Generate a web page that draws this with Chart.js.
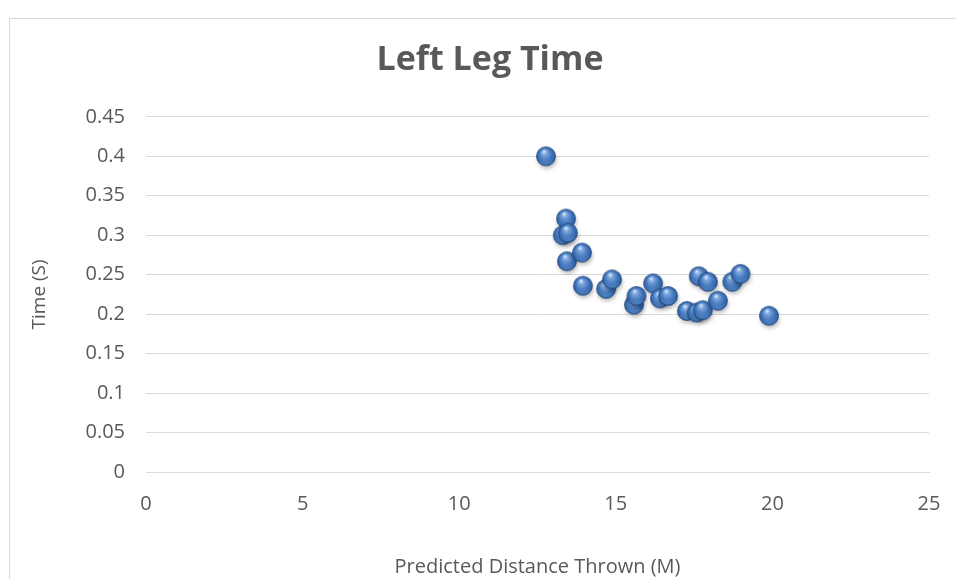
<!DOCTYPE html>
<html>
<head>
<meta charset="utf-8">
<script src="https://cdn.jsdelivr.net/npm/chart.js@4"></script>
<style>
    html, body { margin: 0; padding: 0; background: #ffffff; }
    #wrap { position: relative; width: 956px; height: 579px; overflow: hidden; }
    #frame { position: absolute; left: 9px; top: 18px; width: 1000px; height: 700px; border: 1px solid #d9d9d9; }
    #chart { position: absolute; left: 0; top: 0; }
</style>
</head>
<body>
<div id="wrap">
    <div id="frame"></div>
    <canvas id="chart" width="956" height="579"></canvas>
</div>
<script>
const chartTitle = 'Left Leg Time';
const xTitle = 'Predicted Distance Thrown (M)';
const yTitle = 'Time (S)';

const distances = [12.77, 13.41, 13.31, 13.47, 13.44, 13.92, 13.95, 14.69, 14.88, 15.58, 15.66, 16.19,
    16.41, 16.67, 17.27, 17.59, 17.78, 17.65, 17.94, 18.26, 18.72, 18.98, 19.89];
const times = [0.400, 0.321, 0.300, 0.303, 0.267, 0.278, 0.236, 0.232, 0.244, 0.212, 0.223, 0.239,
    0.220, 0.223, 0.204, 0.202, 0.205, 0.248, 0.241, 0.217, 0.241, 0.251, 0.198];

const xTicks = [0, 5, 10, 15, 20, 25];
const yTicks = [0, 0.05, 0.1, 0.15, 0.2, 0.25, 0.3, 0.35, 0.4, 0.45];

// glossy ball used as point style
function makeBall() {
    const c = document.createElement('canvas');
    c.width = 32; c.height = 32;
    const g = c.getContext('2d');
    const cx = 16, cy = 16, r = 9.6;

    // soft shadow
    g.save();
    g.filter = 'blur(2px)';
    g.fillStyle = 'rgba(0,0,0,0.28)';
    g.beginPath();
    g.ellipse(cx + 1, cy + 3.5, r, r * 0.9, 0, 0, Math.PI * 2);
    g.fill();
    g.restore();

    const grad = g.createRadialGradient(cx - 2, cy - 5, 0.5, cx, cy, r);
    grad.addColorStop(0, '#d3e4f8');
    grad.addColorStop(0.22, '#7ea8de');
    grad.addColorStop(0.6, '#4679be');
    grad.addColorStop(0.9, '#2f62a3');
    grad.addColorStop(1, '#264f86');
    g.fillStyle = grad;
    g.beginPath();
    g.arc(cx, cy, r, 0, Math.PI * 2);
    g.fill();

    // lower rim light
    const rim = g.createLinearGradient(0, cy + 2, 0, cy + r);
    rim.addColorStop(0, 'rgba(120,170,230,0)');
    rim.addColorStop(1, 'rgba(120,170,230,0.45)');
    g.fillStyle = rim;
    g.beginPath();
    g.arc(cx, cy, r - 1, 0, Math.PI);
    g.fill();

    g.strokeStyle = 'rgba(30,65,115,0.7)';
    g.lineWidth = 0.8;
    g.beginPath();
    g.arc(cx, cy, r, 0, Math.PI * 2);
    g.stroke();
    return c;
}

const points = distances.map((d, i) => ({ x: d, y: times[i] }));
const ball = makeBall();
const grey = '#595959';
const font = 'Open Sans';

new Chart(document.getElementById('chart'), {
    type: 'scatter',
    data: {
        datasets: [{
            label: yTitle,
            data: points,
            pointStyle: ball,
            pointRadius: 10,
            pointHoverRadius: 10
        }]
    },
    options: {
        responsive: false,
        animation: false,
        layout: { padding: { left: 24, right: 0, top: 0, bottom: 0 } },
        plugins: {
            legend: { display: false },
            tooltip: { enabled: false },
            title: {
                display: true,
                text: chartTitle,
                color: grey,
                font: { family: font, size: 34, weight: 'bold' },
                padding: { top: 40, bottom: 36 }
            }
        },
        scales: {
            x: {
                type: 'linear',
                min: 0,
                max: 25,
                afterBuildTicks: (s) => { s.ticks = xTicks.map(v => ({ value: v })); },
                afterFit: (s) => { s.height = 107; s.paddingRight = 27; s.paddingLeft = 0; },
                grid: { display: false, drawTicks: false },
                border: { display: true, color: '#d9d9d9', width: 1 },
                ticks: { color: grey, font: { family: font, size: 20 }, padding: 20, maxRotation: 0 },
                title: {
                    display: true,
                    text: xTitle,
                    color: grey,
                    font: { family: font, size: 20 },
                    padding: { top: 0, bottom: 0 }
                }
            },
            y: {
                type: 'linear',
                min: 0,
                max: 0.45,
                afterBuildTicks: (s) => { s.ticks = yTicks.map(v => ({ value: v })); },
                afterFit: (s) => { s.width = 122; },
                grid: { color: '#d9d9d9', lineWidth: 1, drawTicks: false },
                border: { display: false },
                ticks: {
                    color: grey,
                    font: { family: font, size: 20 },
                    padding: 21,
                    callback: (v) => String(Math.round(v * 100) / 100)
                },
                title: {
                    display: true,
                    text: yTitle,
                    color: grey,
                    font: { family: font, size: 19 },
                    padding: { top: 4, bottom: 0 }
                }
            }
        }
    }
});
</script>
</body>
</html>
